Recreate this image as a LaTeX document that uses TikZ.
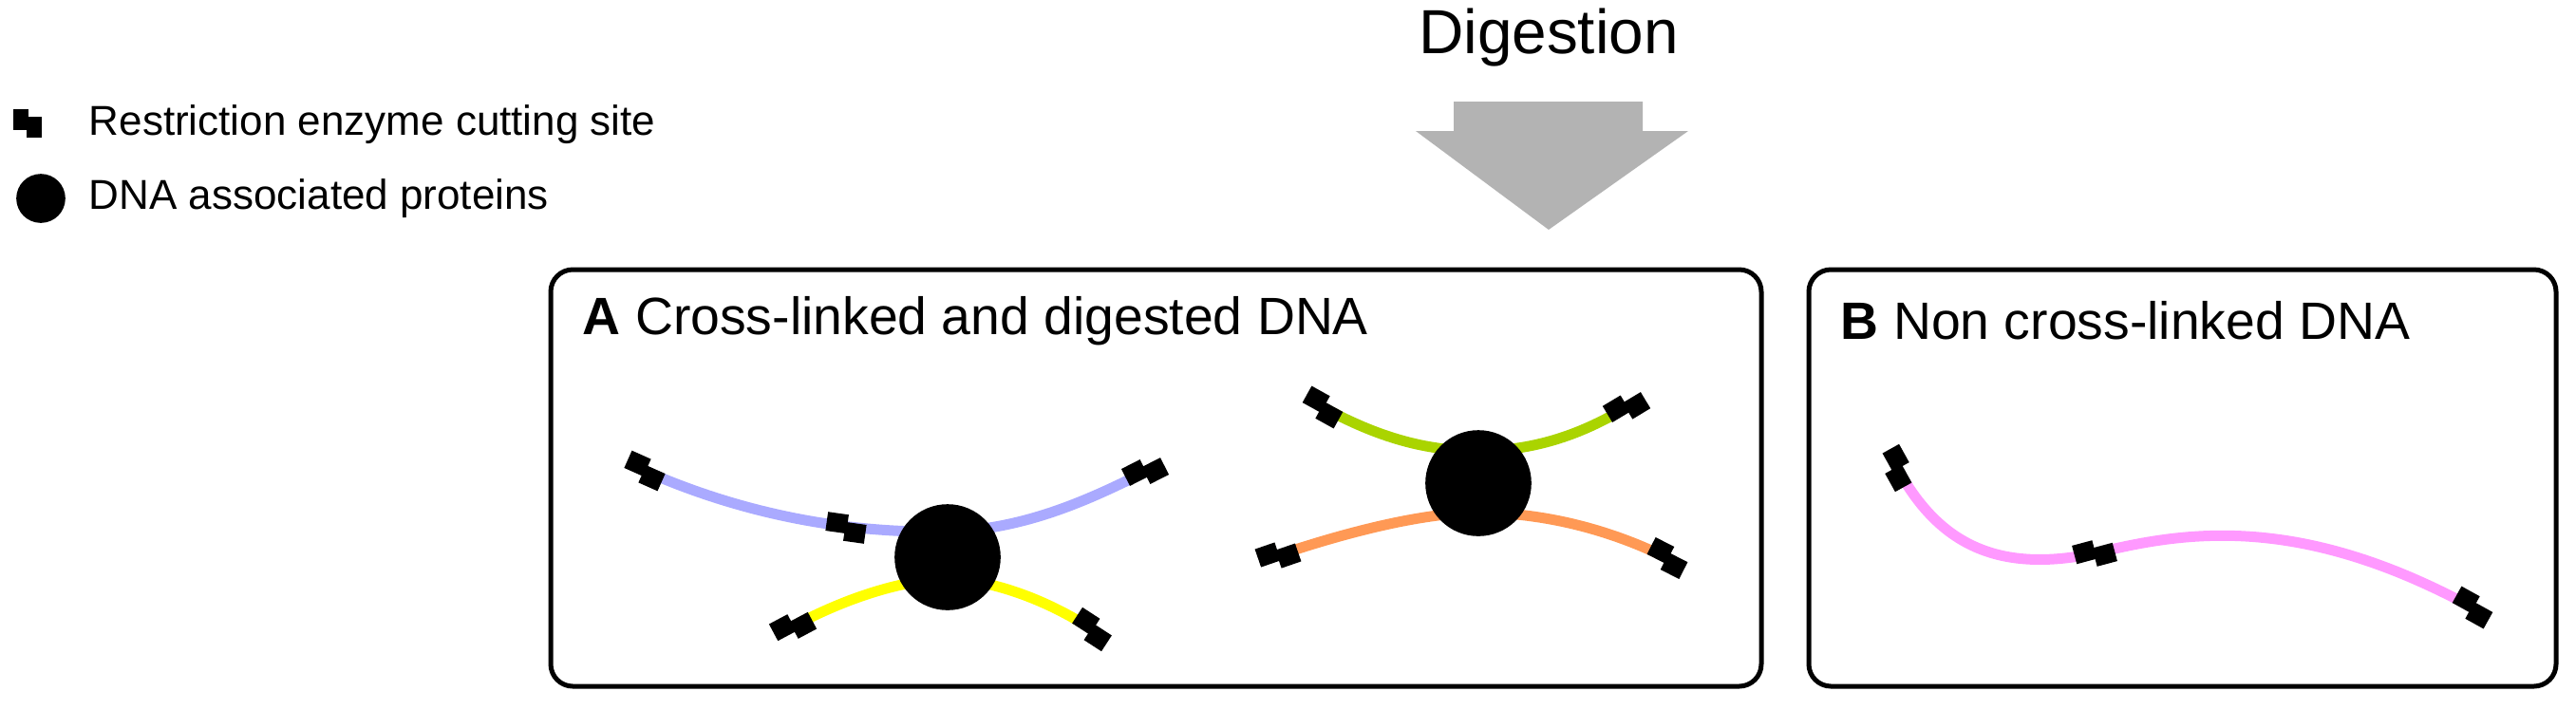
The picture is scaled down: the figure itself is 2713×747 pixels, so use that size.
\documentclass[tikz,border=0pt]{standalone}
\usepackage{fontspec}
\setmainfont{Liberation Sans}
\definecolor{dblue}{HTML}{AAAAFF}
\definecolor{dyellow}{HTML}{FFFF00}
\definecolor{dgreen}{HTML}{AAD400}
\definecolor{dorange}{HTML}{FF9955}
\definecolor{dpink}{HTML}{FF99FF}
\definecolor{arrowgray}{HTML}{B3B3B3}
\tikzset{
  dna/.style={line width=3.3pt},
  panel/.style={draw, line width=1.5pt, rounded corners=7pt},
  protein/.style={circle, fill=black, inner sep=0pt, minimum size=33pt},
  cutsite/.pic={\fill (-21,-14) rectangle (1,6); \fill (-1,-6) rectangle (21,14);}
}
\begin{document}
\begin{tikzpicture}[x=0.3pt,y=-0.3pt]
\useasboundingbox (0,0) rectangle (2713,747);
% title and arrow
\node (dig) at (1631,40) {\fontsize{19.7}{22}\selectfont Digestion};
\fill[arrowgray] (1531,107) -- (1730,107) -- (1730,138) -- (1778,138) -- (1631,242) -- (1491,138) -- (1531,138) -- cycle;
% legend
\pic[xscale=0.7, yscale=1.1] at (29,130) {cutsite};
\node[anchor=west] (l1) at (82,131) {\fontsize{13.2}{15}\selectfont Restriction enzyme cutting site};
\node[protein, minimum size=15.5pt] (lp) at (43,209) {};
\node[anchor=west] (l2) at (82,209) {\fontsize{13.2}{15}\selectfont DNA associated proteins};
% panels
\draw[panel] (580,284) rectangle (1855,723);
\draw[panel] (1905,284) rectangle (2692,723);
\node[anchor=west] (ta) at (602,338) {\fontsize{16.6}{19}\selectfont\textbf{A} Cross-linked and digested DNA};
\node[anchor=west] (tb) at (1927,338) {\fontsize{16.6}{19}\selectfont\textbf{B} Non cross-linked DNA};
% complex 1
\coordinate (b1) at (679,496); \coordinate (b2) at (1206,497);
\coordinate (y1) at (835,660); \coordinate (y2) at (1150,663);
\draw[dna, dblue] (b1) .. controls (790,545) and (900,562) .. (998,560) .. controls (1080,558) and (1150,525) .. (b2);
\draw[dna, dyellow] (y1) .. controls (900,625) and (960,610) .. (998,610) .. controls (1040,610) and (1100,630) .. (y2);
\node[protein, minimum size=33.5pt] (p1) at (998,587) {};
\pic[rotate=-24] at (b1) {cutsite};
\pic[rotate=-8] at (891,556) {cutsite};
\pic[rotate=27] at (b2) {cutsite};
\pic[rotate=28] at (y1) {cutsite};
\pic[rotate=-33] at (y2) {cutsite};
% complex 2
\coordinate (g1) at (1393,429); \coordinate (g2) at (1713,429);
\coordinate (o1) at (1346,585); \coordinate (o2) at (1756,588);
\draw[dna, dgreen] (g1) .. controls (1450,460) and (1500,475) .. (1557,475) .. controls (1620,475) and (1670,455) .. (g2);
\draw[dna, dorange] (o1) .. controls (1420,560) and (1500,540) .. (1557,540) .. controls (1630,540) and (1700,560) .. (o2);
\node[protein, minimum size=33.5pt] (p2) at (1557,509) {};
\pic[rotate=-29] at (g1) {cutsite};
\pic[rotate=31] at (g2) {cutsite};
\pic[rotate=19] at (o1) {cutsite};
\pic[rotate=-27] at (o2) {cutsite};
% panel B
\coordinate (k1) at (1998,493); \coordinate (k2) at (2206,583); \coordinate (k3) at (2604,640);
\draw[dna, dpink] (k1) .. controls (2040,570) and (2100,605) .. (k2) .. controls (2300,560) and (2420,540) .. (k3);
\pic[rotate=-61] at (k1) {cutsite};
\pic[rotate=15] at (k2) {cutsite};
\pic[rotate=-29] at (k3) {cutsite};
\end{tikzpicture}
\end{document}
